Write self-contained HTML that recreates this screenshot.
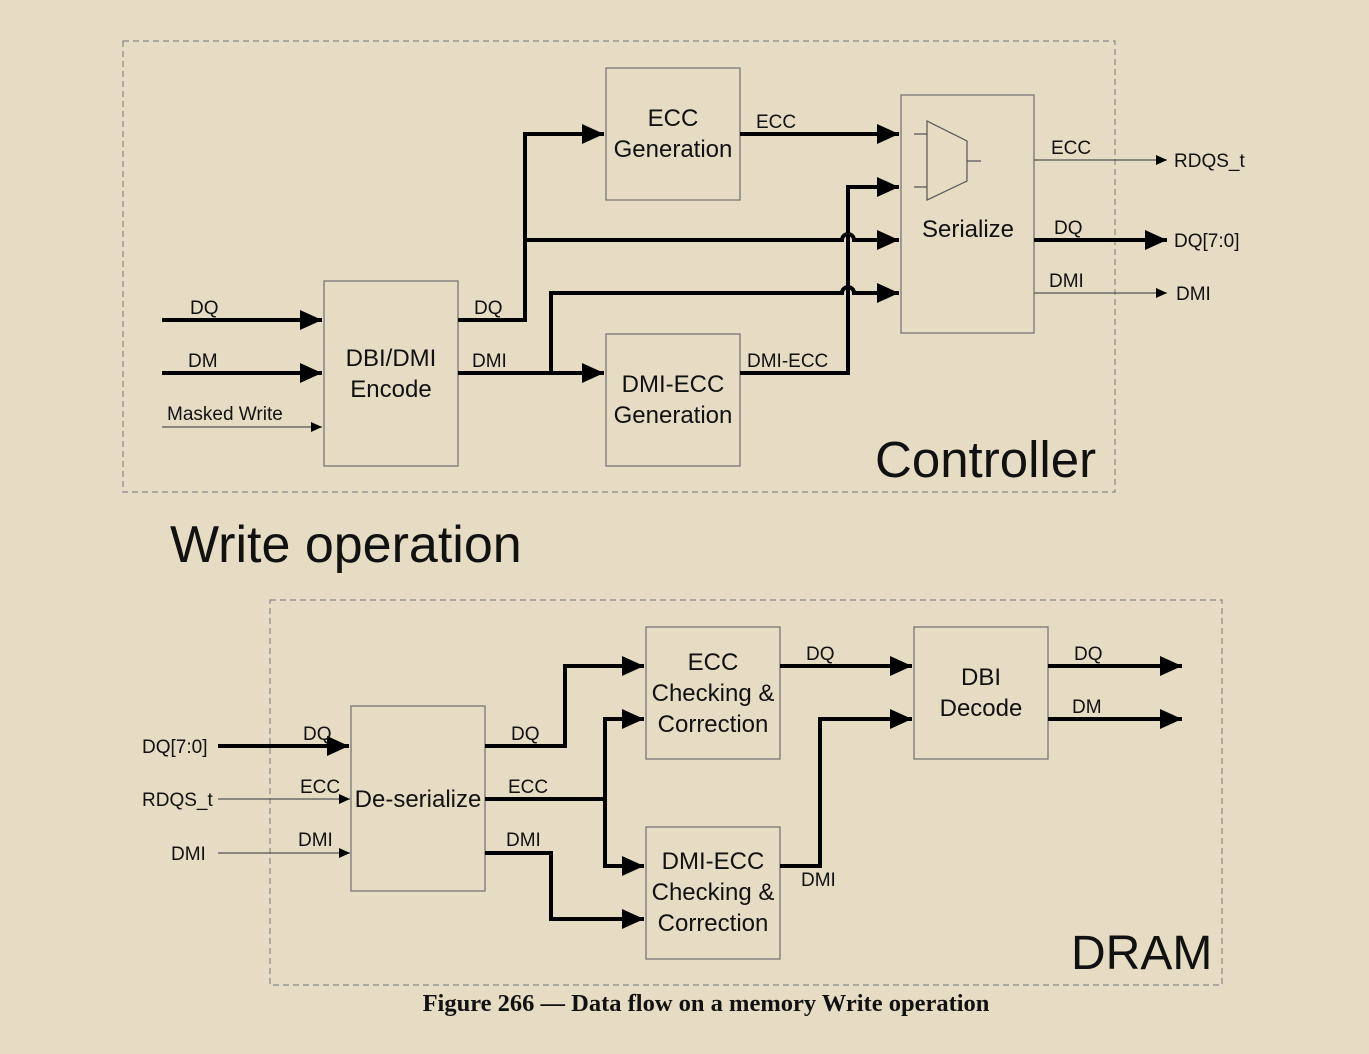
<!DOCTYPE html><html><head><meta charset="utf-8"><style>
html,body{margin:0;padding:0;background:#E5DCC3}
svg{display:block}
text{font-family:"Liberation Sans",sans-serif;fill:#111}
.b{fill:none;stroke:#777;stroke-width:1.3}
.d{fill:none;stroke:#888;stroke-width:1.2;stroke-dasharray:6,4}
.k{fill:none;stroke:#000;stroke-width:4}
.t{fill:none;stroke:#555;stroke-width:1.2}
</style></head><body>
<svg width="1369" height="1054" viewBox="0 0 1369 1054" xmlns="http://www.w3.org/2000/svg">
<defs>
<marker id="A" markerUnits="userSpaceOnUse" markerWidth="24" markerHeight="22" refX="22" refY="10" orient="auto"><path d="M0,0 L22,10 L0,20 z" fill="#000"/></marker>
<marker id="a" markerUnits="userSpaceOnUse" markerWidth="12" markerHeight="12" refX="11" refY="5" orient="auto"><path d="M0,0 L11,5 L0,10 z" fill="#000"/></marker>
</defs>
<rect x="0" y="0" width="1369" height="1054" fill="#E5DCC3"/>
<!-- Controller -->
<rect class="d" x="123" y="41" width="992" height="451"/>
<rect class="b" x="606" y="68" width="134" height="132"/>
<rect class="b" x="901" y="95" width="133" height="238"/>
<rect class="b" x="324" y="281" width="134" height="185"/>
<rect class="b" x="606" y="334" width="134" height="132"/>
<polygon class="t" points="927,121 967,141 967,181 927,200"/>
<path class="t" d="M914,134H927 M914,187H927 M967,161H981"/>
<path class="k" d="M162,320H322" marker-end="url(#A)"/>
<path class="k" d="M162,373H322" marker-end="url(#A)"/>
<path class="t" d="M162,427H322" marker-end="url(#a)"/>
<path class="k" d="M458,320H525V134H604" marker-end="url(#A)"/>
<path class="k" d="M525,240H842A6,6 0 0 1 854,240H899" marker-end="url(#A)"/>
<path class="k" d="M458,373H604" marker-end="url(#A)"/>
<path class="k" d="M551,373V293H842A6,6 0 0 1 854,293H899" marker-end="url(#A)"/>
<path class="k" d="M740,134H899" marker-end="url(#A)"/>
<path class="k" d="M740,373H848V187H899" marker-end="url(#A)"/>
<path class="t" d="M1034,160H1167" marker-end="url(#a)"/>
<path class="k" d="M1034,240H1167" marker-end="url(#A)"/>
<path class="t" d="M1034,293H1167" marker-end="url(#a)"/>
<g font-size="24" text-anchor="middle">
<text x="673" y="126">ECC</text><text x="673" y="157">Generation</text>
<text x="968" y="237">Serialize</text>
<text x="391" y="366">DBI/DMI</text><text x="391" y="397">Encode</text>
<text x="673" y="392">DMI-ECC</text><text x="673" y="423">Generation</text>
</g>
<g font-size="19">
<text x="190" y="314">DQ</text><text x="188" y="367">DM</text><text x="167" y="420">Masked Write</text>
<text x="474" y="314">DQ</text><text x="472" y="367">DMI</text>
<text x="756" y="128">ECC</text><text x="747" y="367">DMI-ECC</text>
<text x="1051" y="154">ECC</text><text x="1054" y="234">DQ</text><text x="1049" y="287">DMI</text>
<text x="1174" y="167">RDQS_t</text><text x="1174" y="247">DQ[7:0]</text><text x="1176" y="300">DMI</text>
</g>
<text x="875" y="477" font-size="51">Controller</text>
<text x="170" y="562" font-size="52">Write operation</text>
<!-- DRAM -->
<rect class="d" x="270" y="600" width="952" height="385"/>
<rect class="b" x="351" y="706" width="134" height="185"/>
<rect class="b" x="646" y="627" width="134" height="132"/>
<rect class="b" x="646" y="827" width="134" height="132"/>
<rect class="b" x="914" y="627" width="134" height="132"/>
<path class="k" d="M218,746H349" marker-end="url(#A)"/>
<path class="t" d="M218,799H350" marker-end="url(#a)"/>
<path class="t" d="M218,853H350" marker-end="url(#a)"/>
<path class="k" d="M485,746H565V666H644" marker-end="url(#A)"/>
<path class="k" d="M485,799H605"/>
<path class="k" d="M605,799V719H644" marker-end="url(#A)"/>
<path class="k" d="M605,799V866H644" marker-end="url(#A)"/>
<path class="k" d="M485,853H551V919H644" marker-end="url(#A)"/>
<path class="k" d="M780,666H912" marker-end="url(#A)"/>
<path class="k" d="M780,866H820V719H912" marker-end="url(#A)"/>
<path class="k" d="M1048,666H1182" marker-end="url(#A)"/>
<path class="k" d="M1048,719H1182" marker-end="url(#A)"/>
<g font-size="24" text-anchor="middle">
<text x="418" y="807">De-serialize</text>
<text x="713" y="670">ECC</text><text x="713" y="701">Checking &amp;</text><text x="713" y="732">Correction</text>
<text x="713" y="869">DMI-ECC</text><text x="713" y="900">Checking &amp;</text><text x="713" y="931">Correction</text>
<text x="981" y="685">DBI</text><text x="981" y="716">Decode</text>
</g>
<g font-size="19">
<text x="142" y="753">DQ[7:0]</text><text x="142" y="806">RDQS_t</text><text x="171" y="860">DMI</text>
<text x="303" y="740">DQ</text><text x="300" y="793">ECC</text><text x="298" y="846">DMI</text>
<text x="511" y="740">DQ</text><text x="508" y="793">ECC</text><text x="506" y="846">DMI</text>
<text x="806" y="660">DQ</text><text x="801" y="886">DMI</text>
<text x="1074" y="660">DQ</text><text x="1072" y="713">DM</text>
</g>
<text x="1071" y="969" font-size="48">DRAM</text>
<text x="706" y="1011" text-anchor="middle" font-size="24.5" font-weight="bold" style="font-family:'Liberation Serif',serif">Figure 266 — Data flow on a memory Write operation</text>
</svg>
</body></html>
